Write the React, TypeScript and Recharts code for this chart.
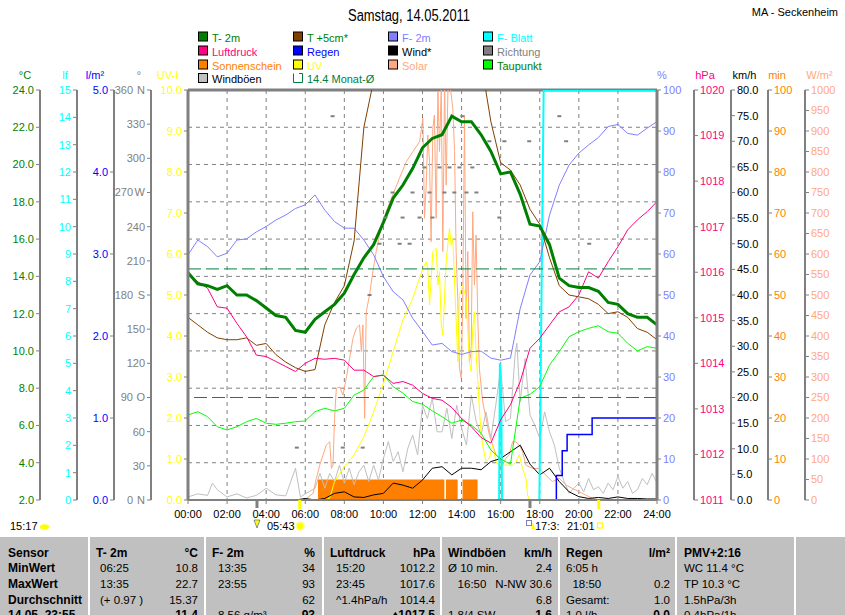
import React from 'react';
import { ComposedChart, Line, Area, XAxis, YAxis, CartesianGrid, ReferenceLine } from 'recharts';

const FONT = "'Liberation Sans', Arial, Helvetica, sans-serif";

// ---------- half-hourly series ----------
const halfHours = [0, 0.5, 1, 1.5, 2, 2.5, 3, 3.5, 4, 4.5, 5, 5.5, 6, 6.5, 7, 7.5, 8, 8.5, 9, 9.5, 10, 10.5, 11, 11.5, 12, 12.5, 13, 13.5, 14, 14.5, 15, 15.5, 16, 16.5, 17, 17.5, 18, 18.5, 19, 19.5, 20, 20.5, 21, 21.5, 22, 22.5, 23, 23.5, 24];
const t2m = [14.2, 13.6, 13.5, 13.3, 13.5, 13.0, 13.0, 12.7, 12.3, 11.9, 11.8, 11.1, 11.0, 11.7, 12.1, 12.5, 13.1, 14.1, 15.0, 15.7, 16.9, 18.2, 18.9, 19.8, 20.9, 21.4, 21.6, 22.6, 22.3, 22.3, 21.6, 20.7, 19.5, 19.6, 18.4, 16.8, 16.7, 15.7, 13.9, 13.5, 13.4, 13.4, 13.2, 12.6, 12.5, 12.0, 11.8, 11.8, 11.4];
const t5cm = [11.8, 11.4, 11.0, 10.7, 10.6, 10.6, 10.7, 10.3, 10.4, 9.8, 9.4, 9.1, 8.9, 9.0, 11.4, 12.6, 13.5, 15.9, 22.0, 24.5, 27, 29, 31, 33, 34, 35, 35, 34, 32, 29, 25.5, 22.3, 20.1, 19.7, 18.9, 17.6, 16.8, 15.0, 13.5, 13.0, 12.9, 12.8, 12.5, 12.0, 12.1, 11.8, 11.2, 11.0, 10.6];
const humidity = [59.8, 63.4, 61.8, 59.3, 60.2, 63.4, 63.7, 65.4, 66.7, 68.3, 69.5, 71.1, 72.0, 74.4, 70.7, 67.9, 66.3, 66.3, 63.4, 59.8, 54.5, 50.8, 48.8, 44.3, 41.1, 37.8, 38.2, 36.2, 35.5, 36.2, 36.3, 34.6, 34.1, 34.6, 46.7, 54.9, 58.1, 69.5, 76.8, 81.7, 84.6, 86.6, 88.4, 91.1, 91.6, 89.4, 89.0, 90.7, 92.3];
const pressure = [1015.94, 1015.79, 1015.65, 1015.24, 1015.21, 1014.88, 1014.58, 1014.18, 1014.15, 1014.04, 1013.93, 1013.82, 1014.0, 1014.11, 1014.09, 1014.11, 1014.07, 1013.85, 1013.85, 1013.71, 1013.74, 1013.56, 1013.6, 1013.52, 1013.34, 1013.23, 1013.19, 1013.03, 1012.79, 1012.61, 1012.37, 1012.25, 1012.76, 1013.09, 1013.6, 1014.33, 1014.55, 1014.84, 1015.13, 1015.24, 1015.5, 1016.01, 1015.87, 1016.23, 1016.56, 1016.93, 1017.15, 1017.33, 1017.55];
const dewPoint = [6.56, 6.74, 6.47, 5.93, 5.76, 5.93, 6.2, 6.38, 6.12, 6.06, 6.12, 6.2, 6.24, 6.74, 6.92, 6.78, 6.92, 7.63, 7.9, 8.62, 8.71, 8.08, 7.73, 7.28, 7.14, 6.78, 6.47, 6.12, 6.29, 6.02, 5.58, 4.68, 4.2, 3.92, 7.46, 7.67, 8.08, 9.24, 9.96, 10.76, 11.03, 11.21, 11.35, 11.03, 10.95, 10.41, 10.0, 10.23, 10.14];
const wind = [0, 0, 0, 0, 0, 0, 0, 0, 0, 0, 0, 0, 0.3, 0, 0.3, 1.3, 1.6, 0.6, 0.5, 1.0, 1.3, 3.3, 2.9, 2.3, 3.9, 6.2, 6.5, 4.9, 6.2, 6.2, 5.9, 7.5, 8.1, 9.4, 10.7, 7.0, 4.9, 6.2, 3.6, 1.6, 0.65, 0.3, 0.5, 0.3, 0.6, 0.3, 0.3, 0.2, 0.2];

// ---------- irregular series ----------
const gustTimes = [0, 0.5, 1, 1.25, 1.5, 2, 2.5, 3, 3.5, 4, 4.5, 5, 5.5, 5.75, 6, 6.5, 6.75, 7, 7.25, 7.5, 7.75, 8, 8.25, 8.5, 8.75, 9, 9.25, 9.5, 9.75, 10, 10.25, 10.5, 10.75, 11, 11.25, 11.5, 11.75, 12, 12.25, 12.5, 12.75, 13, 13.25, 13.5, 13.75, 14, 14.25, 14.5, 14.75, 15, 15.25, 15.5, 15.75, 16, 16.25, 16.5, 16.75, 16.83, 17, 17.25, 17.5, 17.75, 18, 18.25, 18.5, 18.75, 19, 19.25, 19.5, 19.75, 20, 20.25, 20.5, 20.75, 21, 21.25, 21.5, 21.75, 22, 22.25, 22.5, 22.75, 23, 23.25, 23.5, 23.75, 24];
const gustValues = [0.6, 1.2, 0.9, 3.3, 2.0, 0.6, 1.2, 0.4, 0.9, 2.3, 1.0, 0.8, 6.2, 0.6, 1.2, 2.3, 5.2, 2.3, 5.2, 3.6, 6.8, 3.3, 6.2, 3.0, 5.5, 6.8, 3.6, 6.8, 3.9, 8.1, 11.4, 7.5, 9.4, 5.5, 10.1, 12.7, 8.8, 18.5, 15.9, 19.8, 13.3, 13.3, 17.9, 12.0, 18.5, 14.0, 10.7, 20.5, 15.3, 12.7, 17.2, 12.0, 18.5, 25.7, 15.3, 15.9, 28.9, 30.6, 19.2, 27.6, 16.6, 14.6, 12.0, 17.2, 13.3, 10.7, 6.2, 3.6, 1.3, 2.3, 3.3, 1.6, 4.2, 2.0, 2.6, 1.3, 3.3, 2.0, 4.6, 2.3, 3.6, 1.3, 2.0, 4.2, 3.0, 5.2, 3.3];

const uvTimes = [7.0, 7.25, 7.5, 8, 8.5, 9, 9.5, 10, 10.5, 11, 11.5, 12.02, 12.19, 12.27, 12.36, 12.53, 12.7, 12.79, 12.87, 12.96, 13.04, 13.21, 13.38, 13.47, 13.55, 13.72, 13.81, 13.89, 14.06, 14.23, 14.4, 14.49, 14.57, 14.66, 14.74, 14.83, 14.91, 15.0, 15.08, 15.25, 15.42, 15.6, 15.76, 15.93, 16.27, 16.61, 16.78, 16.95, 17.12, 17.29, 17.38, 17.46];
const uvValues = [0, 0.05, 0.45, 0.81, 1.1, 1.54, 2.15, 2.85, 3.62, 4.39, 4.92, 5.65, 5.81, 5.65, 4.76, 6.06, 6.14, 5.24, 5.57, 4.27, 4.02, 5.81, 6.63, 6.22, 6.38, 4.43, 3.37, 5.0, 5.24, 4.92, 3.37, 3.13, 4.19, 4.59, 3.62, 2.89, 2.24, 1.59, 1.34, 0.93, 1.02, 1.34, 0.93, 0.85, 0.85, 0.85, 0.93, 1.1, 0.77, 0.53, 0.12, 0];

const solarTimes = [6.06, 6.4, 6.57, 6.74, 7.08, 7.25, 7.34, 7.42, 7.5, 7.59, 7.76, 7.93, 8.1, 8.27, 8.44, 8.61, 8.78, 8.87, 8.95, 9.04, 9.12, 9.29, 9.46, 9.63, 9.8, 10.14, 10.48, 10.82, 11.17, 11.51, 11.85, 12.02, 12.1, 12.19, 12.27, 12.36, 12.44, 12.53, 12.61, 12.7, 12.79, 12.87, 12.96, 13.04, 13.13, 13.21, 13.3, 13.38, 13.47, 13.55, 13.64, 13.72, 13.81, 13.89, 13.98, 14.06, 14.15, 14.23, 14.32, 14.4, 14.49, 14.57, 14.66, 14.74, 14.83, 14.91, 15.08, 15.25, 15.42, 15.59, 15.76, 15.93, 16.1, 16.27, 16.44, 16.61, 16.78, 16.95, 17.12, 17.29, 17.63, 17.97, 18.3, 18.65, 18.99, 19.33, 19.68, 20.02, 20.36, 20.7, 21.04];
const solarValues = [4, 16, 53, 85, 134, 142, 77, 85, 199, 272, 276, 256, 297, 346, 394, 419, 427, 362, 427, 199, 459, 500, 557, 606, 646, 703, 744, 785, 825, 850, 874, 931, 687, 768, 890, 825, 630, 907, 939, 687, 996, 850, 1005, 606, 1020, 768, 996, 1020, 988, 955, 850, 606, 484, 321, 297, 484, 939, 443, 606, 337, 362, 703, 524, 646, 443, 321, 240, 199, 159, 134, 110, 102, 85, 102, 110, 142, 142, 134, 118, 85, 77, 77, 61, 45, 53, 37, 28, 20, 12, 4, 0];

const sunTimes = [6.65, 13.12, 13.2, 13.8, 14.05, 14.82];
const sunMinutes = [5, 0, 5, 0, 5, 0];

const rainTimes = [18.72, 18.85, 19.15, 19.4, 20.68, 24];
const rainValues = [0, 0.3, 0.6, 0.8, 1.0, 1.0];

const leafTimes = [15.92, 15.96, 16.03, 16.07, 17.0, 17.98, 18.2, 24];
const leafValues: (number | null)[] = [0, 5.0, 3.7, 0, null, 0, 15, 15];

const dirTimes = [5.57, 7.4, 7.92, 8.94, 9.29, 9.8, 10.1, 10.47, 10.83, 10.98, 11.34, 11.49, 11.85, 12.1, 12.36, 12.51, 12.87, 13.12, 13.38, 13.63, 13.89, 14.04, 14.25, 14.55, 14.76, 15.42, 15.93, 16.19, 17.46, 19.0, 19.35, 20.53];
const dirValues = [46, 337, 46, 46, 180, 225, 248, 270, 225, 248, 225, 270, 248, 292, 270, 248, 292, 270, 292, 270, 292, 337, 270, 292, 270, 315, 248, 315, 315, 337, 315, 225];

const monthAvgTemp = 14.4;
const normalPressure = 1013.25;

// ---------- ticks ----------
const hourTicks = [0, 2, 4, 6, 8, 10, 12, 14, 16, 18, 20, 22, 24];
const hourLabels = ['00:00', '02:00', '04:00', '06:00', '08:00', '10:00', '12:00', '14:00', '16:00', '18:00', '20:00', '22:00', '24:00'];
const tempTicks = [2, 4, 6, 8, 10, 12, 14, 16, 18, 20, 22, 24];
const leafTicks = [0, 1, 2, 3, 4, 5, 6, 7, 8, 9, 10, 11, 12, 13, 14, 15];
const rainTicks = [0, 1, 2, 3, 4, 5];
const dirTicks = [0, 30, 60, 90, 120, 150, 180, 210, 240, 270, 300, 330, 360];
const dirCompass = ['N', '', '', 'O', '', '', 'S', '', '', 'W', '', '', 'N'];
const uvTicks = [0, 1, 2, 3, 4, 5, 6, 7, 8, 9, 10];
const humTicks = [0, 10, 20, 30, 40, 50, 60, 70, 80, 90, 100];
const pressTicks = [1011, 1012, 1013, 1014, 1015, 1016, 1017, 1018, 1019, 1020];
const windTicks = [0, 5, 10, 15, 20, 25, 30, 35, 40, 45, 50, 55, 60, 65, 70, 75, 80];
const sunTicks = [0, 10, 20, 30, 40, 50, 60, 70, 80, 90, 100];
const solarTicks = [0, 50, 100, 150, 200, 250, 300, 350, 400, 450, 500, 550, 600, 650, 700, 750, 800, 850, 900, 950, 1000];

// ---------- events below the axis ----------
const moonTimes = [3.53, 17.5];
const sunEventTimes = [5.717, 21.017];

// ---------- table ----------
const tableLabels = ['Sensor', 'MinWert', 'MaxWert', 'Durchschnitt', '14.05. 23:55'];
const tableCols = [
  { left: 96, vleft: 100, right: 198, head: ['T- 2m', '°C'], rows: [['06:25', '10.8'], ['13:35', '22.7'], ['(+ 0.97 )', '15.37'], ['', '11.4']] },
  { left: 212, vleft: 218, right: 315, head: ['F- 2m', '%'], rows: [['13:35', '34'], ['23:55', '93'], ['', '62'], ['8.56 g/m³', '93']] },
  { left: 330, vleft: 336, right: 435, head: ['Luftdruck', 'hPa'], rows: [['15:20', '1012.2'], ['23:45', '1017.6'], ['^1.4hPa/h', '1014.4'], ['', '♦1017.5']] },
  { left: 448, vleft: 448, right: 552, head: ['Windböen', 'km/h'], rows: [['Ø 10 min.', '2.4'], ['   16:50', 'N-NW 30.6'], ['', '6.8'], ['1.8/4 SW', '1.6']] },
  { left: 566, vleft: 566, right: 670, head: ['Regen', 'l/m²'], rows: [['6:05 h', ''], ['  18:50', '0.2'], ['Gesamt:', '1.0'], ['1.0 l/h', '0.0']] },
  { left: 684, vleft: 684, right: 790, head: ['PMV+2:16', ''], rows: [['WC 11.4 °C', ''], ['TP 10.3 °C', ''], ['1.5hPa/3h', ''], ['0.4hPa/1h', '']] },
];
const tableSeparators = [88, 204, 322, 440, 558, 675, 794];

// ---------- build data ----------
const mainData = halfHours.map((t, i) => ({ t, t2m: t2m[i], t5cm: t5cm[i], hum: humidity[i], press: pressure[i], dew: dewPoint[i], wind: wind[i] }));
const pairs = (ts: number[], vs: (number | null)[]) => ts.map((t, i) => ({ t, v: vs[i] }));
const gustData = pairs(gustTimes, gustValues);
const uvData = pairs(uvTimes, uvValues);
const solarData = pairs(solarTimes, solarValues);
const sunData = pairs(sunTimes, sunMinutes);
const rainData = pairs(rainTimes, rainValues);
const leafData = pairs(leafTimes, leafValues);
const dirData = pairs(dirTimes, dirValues);

const PLOT_L = 188;
const PLOT_R = 657;
const tx = (t: number) => PLOT_L + (t / 24) * (PLOT_R - PLOT_L);

const GREY = '#808080';

// axis ids are ordered alphabetically (a_ = next to the plot, e_ = outermost)
const UV = 'a_uv', DEG = 'b_deg', RAIN = 'c_rain', LF = 'd_lf', TEMP = 'e_temp';
const PCT = 'a_pct', HPA = 'b_hpa', KMH = 'c_kmh', MIN = 'd_min', WM2 = 'e_wm2';

type AxisCfg = { id: string; domain: [number, number]; ticks: number[]; color: string; fmt: (v: number) => string; line?: number };
const leftAxes: AxisCfg[] = [
  { id: UV, domain: [0, 10], ticks: uvTicks, color: '#FFFF00', fmt: (v) => v.toFixed(1), line: 3 },
  { id: DEG, domain: [0, 360], ticks: dirTicks, color: GREY, fmt: (v) => String(v) },
  { id: RAIN, domain: [0, 5], ticks: rainTicks, color: '#0000FF', fmt: (v) => v.toFixed(1) },
  { id: LF, domain: [0, 15], ticks: leafTicks, color: '#00FFFF', fmt: (v) => String(v) },
  { id: TEMP, domain: [2, 24], ticks: tempTicks, color: '#008000', fmt: (v) => v.toFixed(1) },
];
const rightAxes: AxisCfg[] = [
  { id: PCT, domain: [0, 100], ticks: humTicks, color: '#8080FF', fmt: (v) => String(v), line: 3 },
  { id: HPA, domain: [1011, 1020], ticks: pressTicks, color: '#FF0080', fmt: (v) => String(v) },
  { id: KMH, domain: [0, 80], ticks: windTicks, color: '#000000', fmt: (v) => v.toFixed(1) },
  { id: MIN, domain: [0, 100], ticks: sunTicks, color: '#FF8000', fmt: (v) => String(v) },
  { id: WM2, domain: [0, 1000], ticks: solarTicks, color: '#FFA880', fmt: (v) => String(v) },
];

const DegTick = (props: any) => {
  const { x, y, payload } = props;
  const v = payload.value as number;
  const letter = dirCompass[dirTicks.indexOf(v)] || '';
  const st = { fill: GREY, fontSize: 11, fontFamily: FONT };
  if (letter) {
    return (
      <g>
        <text x={x - 12} y={y} dy="0.355em" textAnchor="end" style={st}>{v}</text>
        <text x={x} y={y} dy="0.355em" textAnchor="end" style={st}>{letter}</text>
      </g>
    );
  }
  return <text x={x} y={y} dy="0.355em" textAnchor="end" style={st}>{v}</text>;
};

const renderDash = (p: any) => {
  if (p.cx == null || p.cy == null) return <g key={`dd${p.index}`} />;
  return <rect key={`dd${p.index}`} x={p.cx - 2} y={p.cy - 1} width={4} height={2} fill={GREY} />;
};

const legendItems = [
  { label: 'T- 2m', box: '#008000', text: '#008000', col: 0, row: 0 },
  { label: 'T +5cm*', box: '#804000', text: '#008000', col: 1, row: 0 },
  { label: 'F- 2m', box: '#8080FF', text: '#8080FF', col: 2, row: 0 },
  { label: 'F- Blatt', box: '#00FFFF', text: '#00FFFF', col: 3, row: 0 },
  { label: 'Luftdruck', box: '#FF0080', text: '#FF0080', col: 0, row: 1 },
  { label: 'Regen', box: '#0000FF', text: '#0000FF', col: 1, row: 1 },
  { label: 'Wind*', box: '#000000', text: '#000000', col: 2, row: 1 },
  { label: 'Richtung', box: '#808080', text: '#808080', col: 3, row: 1 },
  { label: 'Sonnenschein', box: '#FF8000', text: '#FF8000', col: 0, row: 2 },
  { label: 'UV', box: '#FFFF00', text: '#FFFF00', col: 1, row: 2 },
  { label: 'Solar', box: '#FFA880', text: '#FFA880', col: 2, row: 2 },
  { label: 'Taupunkt', box: '#00FF00', text: '#008000', col: 3, row: 2 },
  { label: 'Windböen', box: '#C0C0C0', text: '#000000', col: 0, row: 3 },
  { label: '14.4 Monat-Ø', box: 'none', text: '#008040', col: 1, row: 3 },
];
const legendCols = [198, 293, 388, 483];
const legendRows = [41.5, 55.5, 69.5, 83];

const units = [
  { t: '°C', x: 25, c: '#008000' },
  { t: 'lf', x: 65, c: '#00FFFF' },
  { t: 'l/m²', x: 95, c: '#0000FF' },
  { t: '°', x: 139, c: GREY },
  { t: 'UV-I', x: 167.5, c: '#FFFF00' },
  { t: '%', x: 662, c: '#8080FF' },
  { t: 'hPa', x: 705, c: '#FF0080' },
  { t: 'km/h', x: 744.5, c: '#000000' },
  { t: 'min', x: 777, c: '#FF8000' },
  { t: 'W/m²', x: 819.5, c: '#FFA880' },
];

const lineCommon = { dot: false as const, activeDot: false as const, isAnimationActive: false };

export default function App() {
  const rowBase = [556.5, 572.2, 588, 603.7, 618.5];
  return (
    <div style={{ position: 'absolute', left: 0, top: 0, width: 845, height: 615, overflow: 'hidden', background: '#fff', fontFamily: FONT }}>
      <div style={{ position: 'absolute', left: 0, top: 0 }}>
        <ComposedChart width={845} height={535} data={mainData} margin={{ top: 90, right: 3, bottom: 5, left: 3 }} style={{ fontFamily: FONT }}>
          <CartesianGrid yAxisId={TEMP} stroke={GREY} strokeDasharray="4 4" />
          <XAxis dataKey="t" type="number" domain={[0, 24]} ticks={hourTicks} interval={0} allowDataOverflow
            tickFormatter={(v: number) => hourLabels[hourTicks.indexOf(v)] ?? ''} height={30} tickSize={4} tickMargin={6}
            axisLine={{ stroke: GREY, strokeWidth: 2 }} tickLine={{ stroke: GREY }} tick={{ fill: '#000', fontSize: 11, fontFamily: FONT }} />
          {leftAxes.map((a) => (
            <YAxis key={a.id} yAxisId={a.id} orientation="left" width={37} domain={a.domain} ticks={a.ticks} interval={0} allowDataOverflow
              tickFormatter={a.fmt} tickSize={4} tickMargin={2}
              axisLine={{ stroke: GREY, strokeWidth: a.line ?? 2 }} tickLine={{ stroke: GREY }}
              tick={a.id === DEG ? DegTick : { fill: a.color, fontSize: 11, fontFamily: FONT }} />
          ))}
          {rightAxes.map((a) => (
            <YAxis key={a.id} yAxisId={a.id} orientation="right" width={37} domain={a.domain} ticks={a.ticks} interval={0} allowDataOverflow
              tickFormatter={a.fmt} tickSize={4} tickMargin={2}
              axisLine={{ stroke: GREY, strokeWidth: a.line ?? 2 }} tickLine={{ stroke: GREY }}
              tick={{ fill: a.color, fontSize: 11, fontFamily: FONT }} />
          ))}
          <ReferenceLine yAxisId={TEMP} y={24} stroke={GREY} strokeWidth={3} />
          <Area yAxisId={MIN} data={sunData} dataKey="v" type="stepAfter" stroke="none" fill="#FF8000" fillOpacity={1} {...lineCommon} />
          <Line yAxisId={KMH} data={gustData} dataKey="v" stroke="#C0C0C0" strokeWidth={1} {...lineCommon} />
          <Line yAxisId={WM2} data={solarData} dataKey="v" stroke="#FFA880" strokeWidth={1} {...lineCommon} />
          <Line yAxisId={UV} data={uvData} dataKey="v" stroke="#FFFF00" strokeWidth={1} {...lineCommon} />
          <Line yAxisId={KMH} dataKey="wind" stroke="#000000" strokeWidth={1} {...lineCommon} />
          <Line yAxisId={RAIN} data={rainData} dataKey="v" type="stepAfter" stroke="#0000FF" strokeWidth={1.5} {...lineCommon} />
          <Line yAxisId={LF} data={leafData} dataKey="v" stroke="#00FFFF" strokeWidth={2} {...lineCommon} />
          <Line yAxisId={DEG} data={dirData} dataKey="v" stroke="none" dot={renderDash} activeDot={false} isAnimationActive={false} />
          <Line yAxisId={TEMP} dataKey="dew" stroke="#00FF00" strokeWidth={1} {...lineCommon} />
          <Line yAxisId={HPA} dataKey="press" stroke="#FF0080" strokeWidth={1} {...lineCommon} />
          <Line yAxisId={PCT} dataKey="hum" stroke="#8080FF" strokeWidth={1} {...lineCommon} />
          <Line yAxisId={TEMP} dataKey="t5cm" stroke="#804000" strokeWidth={1} {...lineCommon} />
          <Line yAxisId={TEMP} dataKey="t2m" stroke="#008000" strokeWidth={3} {...lineCommon} />
          <ReferenceLine yAxisId={TEMP} y={monthAvgTemp} stroke="#008040" strokeDasharray="13 5" />
          <ReferenceLine yAxisId={HPA} y={normalPressure} stroke="#FF0080" strokeDasharray="13 5" />
        </ComposedChart>
      </div>
      <svg width={845} height={615} style={{ position: 'absolute', left: 0, top: 0, pointerEvents: 'none' }} fontFamily={FONT}>
        <text x={409} y={21} textAnchor="middle" fontSize={16} textLength={122} lengthAdjust="spacingAndGlyphs" fill="#000">Samstag, 14.05.2011</text>
        <text x={838} y={16.3} textAnchor="end" fontSize={11} fill="#000">MA - Seckenheim</text>
        {legendItems.map((it, i) => {
          const x = legendCols[it.col];
          const b = legendRows[it.row];
          return (
            <g key={`lg${i}`}>
              {it.box === 'none'
                ? <path d={`M${x + 0.5},${b - 9.5} V${b - 0.5} H${x + 9.5} V${b - 9.5} H${x + 6}`} fill="none" stroke="#008040" strokeWidth={1} />
                : <rect x={x + 0.5} y={b - 9.5} width={9} height={9} fill={it.box} stroke="#000" strokeWidth={1} />}
              <text x={x + 14} y={b} fontSize={11} fill={it.text}>{it.label}</text>
            </g>
          );
        })}
        {units.map((u, i) => (
          <text key={`u${i}`} x={u.x} y={79} textAnchor="middle" fontSize={11} fill={u.c}>{u.t}</text>
        ))}
        {moonTimes.map((t, i) => <rect key={`m${i}`} x={tx(t) - 1.5} y={500} width={3} height={8} fill={GREY} />)}
        {sunEventTimes.map((t, i) => <rect key={`s${i}`} x={tx(t) - 1.5} y={500} width={3} height={9} fill="#FFFF00" />)}
        <text x={10} y={530} fontSize={11} fill="#000">15:17</text>
        <ellipse cx={44.5} cy={527} rx={4.5} ry={2.8} fill="#FFFF00" />
        <path d="M254,520 L260,520 L257,528 Z" fill="#FFFF00" stroke="#4040A0" strokeWidth={0.6} />
        <text x={267} y={530} fontSize={11} fill="#000">05:43</text>
        <circle cx={300} cy={526} r={5} fill="#FFFFA0" />
        <circle cx={300} cy={526} r={3.3} fill="#FFFF00" />
        <rect x={526.5} y={520.5} width={5} height={5} fill="none" stroke="#000080" strokeWidth={1} strokeDasharray="1 1" />
        <path d="M531,529 L533,522 L535,529 Z" fill="#FFFF00" />
        <text x={535} y={530} fontSize={11} fill="#000">17:3:</text>
        <text x={567} y={530} fontSize={11} fill="#000">21:01</text>
        <rect x={597.5} y={523} width={5} height={5} fill="none" stroke="#FFFF00" strokeWidth={1.2} />
        <rect x={0} y={537} width={845} height={78} fill="#C0C0C0" />
        {tableSeparators.map((x, i) => <rect key={`sep${i}`} x={x} y={537} width={2} height={78} fill="#FFFFFF" />)}
        {tableLabels.map((l, i) => (
          <text key={`tl${i}`} x={8} y={rowBase[i]} fontSize={12} fontWeight="bold" fill="#000">{l}</text>
        ))}
        {tableCols.map((c, ci) => (
          <g key={`tc${ci}`}>
            <text x={c.left} y={rowBase[0]} fontSize={12} fontWeight="bold" fill="#000" style={{ whiteSpace: 'pre' }}>{c.head[0]}</text>
            <text x={c.right} y={rowBase[0]} fontSize={12} fontWeight="bold" textAnchor="end" fill="#000">{c.head[1]}</text>
            {c.rows.map((r, ri) => (
              <g key={`tr${ci}-${ri}`}>
                <text x={c.vleft} y={rowBase[ri + 1]} fontSize={11.5} fill="#000" style={{ whiteSpace: 'pre' }}>{r[0]}</text>
                <text x={c.right} y={rowBase[ri + 1]} fontSize={ri === 3 ? 12 : 11.5} fontWeight={ri === 3 ? 'bold' : 'normal'} textAnchor="end" fill="#000">{r[1]}</text>
              </g>
            ))}
          </g>
        ))}
      </svg>
    </div>
  );
}
